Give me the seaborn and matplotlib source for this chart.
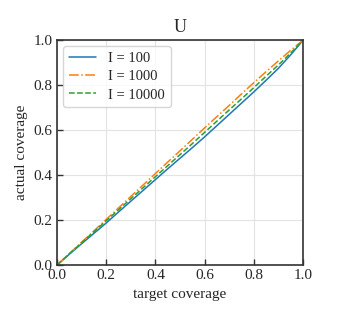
import matplotlib
matplotlib.use("Agg")
import matplotlib.pyplot as plt
import seaborn as sns
import pandas as pd

target = [0.0, 0.05, 0.1, 0.15, 0.2, 0.25, 0.3, 0.35, 0.4, 0.45, 0.5,
          0.55, 0.6, 0.65, 0.7, 0.75, 0.8, 0.85, 0.9, 0.95, 1.0]
cov_100 = [0.0, 0.048, 0.095, 0.141, 0.187, 0.236, 0.284, 0.332, 0.380, 0.428, 0.475,
           0.522, 0.570, 0.620, 0.670, 0.720, 0.770, 0.822, 0.875, 0.935, 1.0]
cov_1000 = [0.0, 0.051, 0.102, 0.152, 0.203, 0.254, 0.305, 0.356, 0.407, 0.458, 0.508,
            0.559, 0.610, 0.660, 0.710, 0.761, 0.811, 0.860, 0.908, 0.955, 1.0]
cov_10000 = [0.0, 0.050, 0.099, 0.148, 0.197, 0.246, 0.295, 0.344, 0.393, 0.442, 0.491,
             0.540, 0.590, 0.640, 0.690, 0.739, 0.789, 0.840, 0.890, 0.943, 1.0]
labels = ["I = 100", "I = 1000", "I = 10000"]

rows = []
for lab, ys in zip(labels, [cov_100, cov_1000, cov_10000]):
    for x, y in zip(target, ys):
        rows.append([x, y, lab])
df = pd.DataFrame(rows, columns=["target", "actual", "series"])

sns.set_style("whitegrid")
plt.rcParams["font.family"] = ["Liberation Serif", "DejaVu Serif"]

fig = plt.figure(figsize=(3.41, 3.31), dpi=100)
ax = fig.add_axes([0.167, 0.199, 0.722, 0.680])
palette = ["#1f77b4", "#ff7f0e", "#2ca02c"]
styles = ["-", "-.", "--"]
for lab, col, ls in zip(labels, palette, styles):
    sub = df[df["series"] == lab]
    sns.lineplot(ax=ax, data=sub, x="target", y="actual", color=col,
                 linestyle=ls, linewidth=1.1, label=lab)

ax.set_xlim(0, 1)
ax.set_ylim(0, 1)
ax.set_xticks([0, 0.2, 0.4, 0.6, 0.8, 1.0])
ax.set_yticks([0, 0.2, 0.4, 0.6, 0.8, 1.0])
ax.grid(True, color="#e3e3e3", linewidth=0.8)
for s in ax.spines.values():
    s.set_color("#333333")
    s.set_linewidth(1.2)
ax.tick_params(direction="in", length=4, width=1, color="#333333", labelsize=11,
               left=True, bottom=True, pad=3)
ax.set_xlabel("target coverage", fontsize=11)
ax.set_ylabel("actual coverage", fontsize=11)
ax.set_title("U", fontsize=13)
leg = ax.legend(loc="upper left", fontsize=10.5, frameon=True, fancybox=True,
                edgecolor="#cccccc", handlelength=1.9, labelspacing=0.35,
                borderaxespad=0.4)
fig.savefig("out.png", dpi=100, facecolor="white")
